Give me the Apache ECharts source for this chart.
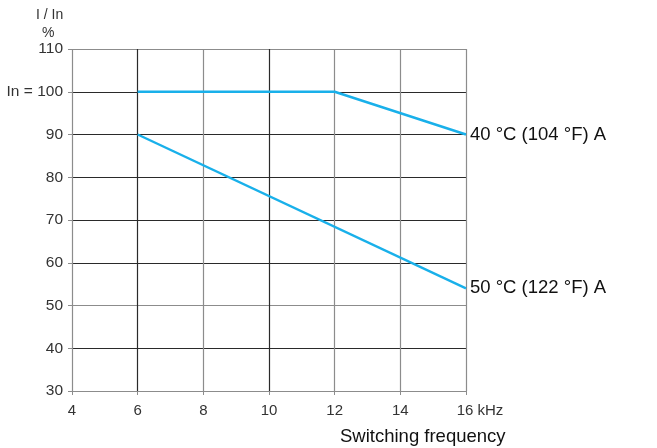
<!DOCTYPE html>
<html><head><meta charset="utf-8">
<script src="https://cdn.jsdelivr.net/npm/echarts@6/dist/echarts.min.js"></script>
<style>html,body{margin:0;padding:0;background:#fff}#c{width:657px;height:448px}</style>
</head><body><div id="c"></div>
<script>
const xTicks = [4, 6, 8, 10, 12, 14, 16];
const yTicks = [30, 40, 50, 60, 70, 80, 90, 100, 110];
const series40Name = '40 °C (104 °F) A';
const series40X = [6, 12, 16];
const series40Y = [100, 100, 90];
const series50Name = '50 °C (122 °F) A';
const series50X = [6, 16];
const series50Y = [90, 54];

const FONT = '"Liberation Sans", Arial, sans-serif';
const dark = '#2a2a2a', gray = '#8c8c8c';
const chart = echarts.init(document.getElementById('c'));
function mk(name, xs, ys) {
  return {
    name: name, type: 'line', data: xs.map((x, i) => [x, ys[i]]),
    showSymbol: false, lineStyle: { color: '#19b0ea', width: 2.4 }, itemStyle: { color: '#19b0ea' },
    endLabel: { show: true, formatter: name, distance: 4, color: '#111', fontSize: 18.5, fontFamily: FONT },
    animation: false
  };
}
chart.setOption({
  animation: false,
  grid: { left: 72, right: 191, top: 49, bottom: 57 },
  xAxis: {
    type: 'value', min: 4, max: 16, interval: 2,
    axisLine: { show: false },
    axisTick: { show: true, length: 4, lineStyle: { color: gray } },
    axisLabel: { color: '#333', fontSize: 15, fontFamily: FONT, margin: 12,
      formatter: v => v === 16 ? '{n|16}{u| kHz}' : String(v),
      rich: { n: { fontSize: 15, fontFamily: FONT, color: '#333', padding: [0, 0, 0, 28] },
              u: { fontSize: 15, fontFamily: FONT, color: '#333' } } },
    splitLine: { show: true, lineStyle: { color: [gray, dark, gray, dark, gray, gray, gray], width: 1.2 } }
  },
  yAxis: {
    type: 'value', min: 30, max: 110, interval: 10,
    axisLine: { show: false },
    axisTick: { show: true, length: 4, lineStyle: { color: gray } },
    axisLabel: { color: '#333', fontSize: 15.5, fontFamily: FONT, margin: 9,
      formatter: v => v === 100 ? 'In = 100' : String(v) },
    splitLine: { show: true, lineStyle: { color: [gray, dark, gray, dark, dark, dark, dark, dark, gray], width: 1.2 } }
  },
  graphic: [
    { type: 'text', left: 36, top: 8, style: { text: 'I / In', fill: '#333', font: '14px ' + FONT } },
    { type: 'text', left: 42, top: 26, style: { text: '%', fill: '#333', font: '14px ' + FONT } },
    { type: 'text', left: 340, top: 427, style: { text: 'Switching frequency', fill: '#111', font: '18.5px ' + FONT } }
  ],
  series: [mk(series40Name, series40X, series40Y), mk(series50Name, series50X, series50Y)]
});
</script></body></html>
